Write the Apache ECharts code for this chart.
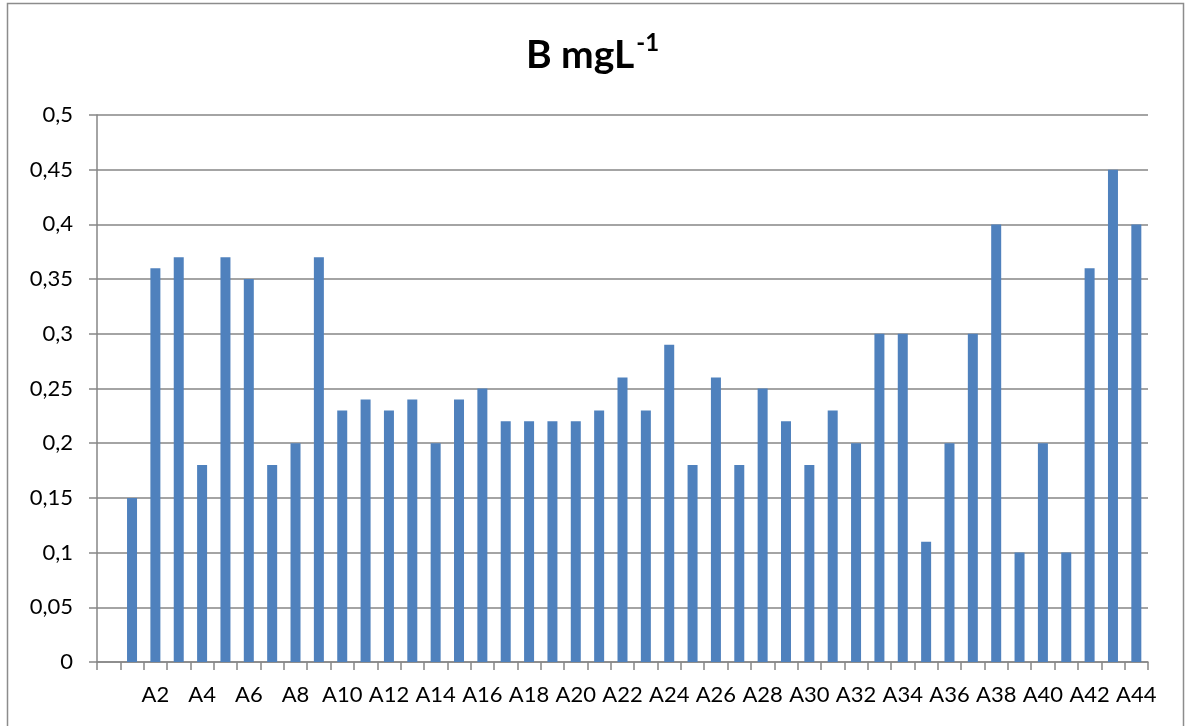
<!DOCTYPE html>
<html>
<head>
<meta charset="utf-8">
<script src="https://cdn.jsdelivr.net/npm/echarts@6/dist/echarts.min.js"></script>
<style>
html,body{margin:0;padding:0;background:#fff;}
#chart{width:1185px;height:726px;}
</style>
</head>
<body>
<div id="chart"></div>
<script>
// categories (first category is empty, as in the reference)
const categories = ["", "A1","A2","A3","A4","A5","A6","A7","A8","A9","A10","A11","A12","A13","A14","A15","A16","A17","A18","A19","A20","A21","A22","A23","A24","A25","A26","A27","A28","A29","A30","A31","A32","A33","A34","A35","A36","A37","A38","A39","A40","A41","A42","A43","A44"];
const values = [null, 0.15,0.36,0.37,0.18,0.37,0.35,0.18,0.20,0.37,0.23,0.24,0.23,0.24,0.20,0.24,0.25,0.22,0.22,0.22,0.22,0.23,0.26,0.23,0.29,0.18,0.26,0.18,0.25,0.22,0.18,0.23,0.20,0.30,0.30,0.11,0.20,0.30,0.40,0.10,0.20,0.10,0.36,0.45,0.40];
const yMin = 0, yMax = 0.5, yStep = 0.05;

const chart = echarts.init(document.getElementById('chart'));
const font = 'Lato, "Open Sans", sans-serif';
chart.setOption({
  animation: false,
  backgroundColor: '#fff',
  title: {
    text: '{b|B mgL}{s|-1}',
    left: 'center',
    top: 26,
    textStyle: {
      rich: {
        b: {fontFamily: font, fontWeight: 'bold', fontSize: 39, color: '#000', verticalAlign: 'bottom'},
        s: {fontFamily: font, fontWeight: 'bold', fontSize: 24, color: '#000', verticalAlign: 'top', padding: [0,0,20,2]}
      }
    }
  },
  graphic: [{
    type: 'rect',
    shape: {x: 7.5, y: 3.5, width: 1176, height: 740},
    style: {fill: 'none', stroke: '#8c8c8c', lineWidth: 1.5},
    silent: true
  }],
  grid: {left: 97, right: 37, top: 115, bottom: 64, containLabel: false},
  xAxis: {
    type: 'category',
    data: categories,
    boundaryGap: true,
    axisLine: {show: true, lineStyle: {color: '#868686', width: 1.5}},
    axisTick: {show: true, interval: 0, length: 8, lineStyle: {color: '#868686', width: 1.5}},
    axisLabel: {interval: 1, color: '#000', fontFamily: font, fontSize: 22, margin: 22},
    splitLine: {show: false}
  },
  yAxis: {
    type: 'value',
    min: yMin, max: yMax, interval: yStep,
    axisLine: {show: true, lineStyle: {color: '#868686', width: 1.5}},
    axisTick: {show: true, length: 8, lineStyle: {color: '#868686', width: 1.5}},
    axisLabel: {
      color: '#000', fontFamily: font, fontSize: 22, margin: 24,
      formatter: v => String(+v.toFixed(2)).replace('.', ',')
    },
    splitLine: {show: true, lineStyle: {color: '#868686', width: 1.5}}
  },
  series: [{
    type: 'bar',
    data: values,
    barWidth: 10,
    itemStyle: {color: '#4F81BD'}
  }]
});
</script>
</body>
</html>
